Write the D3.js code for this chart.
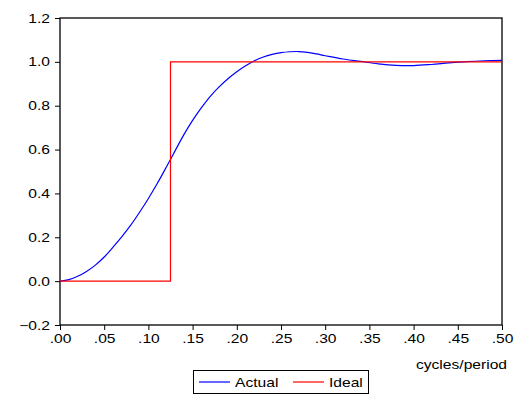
<!DOCTYPE html>
<html>
<head>
<meta charset="utf-8">
<script src="https://cdn.jsdelivr.net/npm/d3@7"></script>
<style>
  body { margin: 0; background: #fff; }
  text { font-family: "Liberation Sans", Arial, sans-serif; }
</style>
</head>
<body>
<script>
// frequency grid (cycles/period) and the actual filter response
var freq = [0, .01, .02, .03, .04, .05, .06, .07, .08, .09, .10, .11, .12, .13, .14, .15,
            .16, .17, .18, .19, .20, .21, .22, .23, .24, .25, .26, .27, .28, .29, .30,
            .32, .34, .36, .38, .40, .42, .44, .46, .48, .50];
var actual = [0, .007, .022, .044, .073, .110, .155, .203, .255, .314, .377, .445, .518, .593, .667, .733,
              .791, .843, .886, .923, .955, .982, 1.005, 1.022, 1.034, 1.042, 1.046, 1.047, 1.043, 1.036, 1.028,
              1.013, 1.002, .991, .984, .983, .988, .995, 1.001, 1.005, 1.007];
// ideal filter: step at the cutoff
var idealFreq = [0, .125, .50];
var idealVal = [0, 1, 1];

var xTicks = [0, .05, .10, .15, .20, .25, .30, .35, .40, .45, .50];
var yTicks = [-0.2, 0, 0.2, 0.4, 0.6, 0.8, 1.0, 1.2];

var width = 519, height = 394;
var plotLeft = 60, plotRight = 502, plotTop = 18, plotBottom = 325;
var stretch = 1.25; // the original text is set wide

var svg = d3.select("body").append("svg")
            .attr("width", width)
            .attr("height", height);

var x = d3.scaleLinear().domain([0, 0.5]).range([plotLeft, plotRight]);
var y = d3.scaleLinear().domain([-0.2, 1.2]).range([plotBottom, plotTop]);

// frame
svg.append("rect").attr("x", plotLeft).attr("y", plotTop)
   .attr("width", plotRight - plotLeft).attr("height", plotBottom - plotTop)
   .attr("fill", "none").attr("stroke", "#000").attr("stroke-width", 1.3);

// axes
var xAxis = svg.append("g").attr("transform", "translate(0," + plotBottom + ")")
               .call(d3.axisBottom(x).tickValues(xTicks).tickSize(5).tickPadding(4)
                       .tickFormat(function(d) { return d3.format(".2f")(d).replace(/^0/, ""); }));
var yAxis = svg.append("g").attr("transform", "translate(" + plotLeft + ",0)")
               .call(d3.axisLeft(y).tickValues(yTicks).tickSize(5)
                       .tickFormat(d3.format(".1f")));
[xAxis, yAxis].forEach(function(a) {
  a.select(".domain").remove();
  a.selectAll("line").attr("stroke", "#000");
  a.selectAll("text").attr("font-size", "12.5px").attr("fill", "#000")
   .attr("transform", "scale(" + stretch + ",1)");
});
yAxis.selectAll("text").attr("x", -10 / stretch);

// lines
var actualLine = d3.line().x(function(d, i) { return x(freq[i]); })
                          .y(function(d) { return y(d); })
                          .curve(d3.curveCatmullRom);
svg.append("path").attr("d", actualLine(actual))
   .attr("fill", "none").attr("stroke", "#0000ff").attr("stroke-width", 1.2);

var idealLine = d3.line().x(function(d, i) { return x(idealFreq[i]); })
                         .y(function(d) { return y(d); })
                         .curve(d3.curveStepAfter);
svg.append("path").attr("d", idealLine(idealVal))
   .attr("fill", "none").attr("stroke", "#ff0000").attr("stroke-width", 1.2);

// axis title
svg.append("text").attr("transform", "translate(507,369) scale(" + stretch + ",1)")
   .attr("text-anchor", "end").attr("font-size", "12.5px")
   .text("cycles/period");

// legend
var legend = svg.append("g");
legend.append("rect").attr("x", 193.5).attr("y", 370.5)
      .attr("width", 175).attr("height", 23)
      .attr("fill", "#fff").attr("stroke", "#000");
var items = [["Actual", "#0000ff", 199], ["Ideal", "#ff0000", 293]];
items.forEach(function(it) {
  legend.append("line").attr("x1", it[2]).attr("x2", it[2] + 31)
        .attr("y1", 382).attr("y2", 382)
        .attr("stroke", it[1]).attr("stroke-width", 1.2);
  legend.append("text")
        .attr("transform", "translate(" + (it[2] + 36) + ",386.5) scale(" + stretch + ",1)")
        .attr("font-size", "12.5px").text(it[0]);
});
</script>
</body>
</html>
